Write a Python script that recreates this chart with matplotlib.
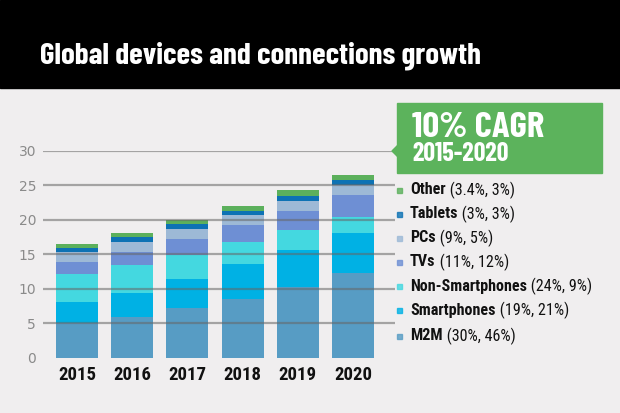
import matplotlib
matplotlib.use('Agg')

import matplotlib.pyplot as plt
from matplotlib.patches import Rectangle, Polygon
import numpy as np

# values (billions of devices)
years = ['2015', '2016', '2017', '2018', '2019', '2020']
m2m = [4.98, 5.85, 7.21, 8.47, 10.20, 12.29]
smartphones = [3.10, 3.54, 4.21, 5.13, 5.38, 5.76]
non_smartphones = [4.11, 4.11, 3.53, 3.19, 2.95, 2.42]
tvs = [1.65, 1.89, 2.27, 2.41, 2.76, 3.09]
pcs = [1.45, 1.45, 1.50, 1.46, 1.45, 1.44]
tablets = [0.58, 0.66, 0.63, 0.68, 0.72, 0.79]
other = [0.58, 0.55, 0.58, 0.66, 0.83, 0.71]

series = [m2m, smartphones, non_smartphones, tvs, pcs, tablets, other]
colors = ['#579cc4', '#00b1e4', '#44d8e0', '#6e8fd4', '#9db9d6', '#0d72b4', '#5cb05c']
names = ['M2M', 'Smartphones', 'Non-Smartphones', 'TVs', 'PCs', 'Tablets', 'Other']
shares = ['(30%, 46%)', '(19%, 21%)', '(24%, 9%)', '(11%, 12%)', '(9%, 5%)', '(3%, 3%)', '(3.4%, 3%)']

W, H = 620, 413
bg = '#f0eeef'
cond = ['Roboto Condensed', 'DejaVu Sans']
tight = ['Barlow Condensed', 'Roboto Condensed', 'DejaVu Sans']

fig = plt.figure(figsize=(6.2, 4.13), dpi=100, facecolor=bg)
renderer = fig.canvas.get_renderer()


def fx(px):
    return px / W


def fy(py):
    return 1 - py / H


def fit_width(texts, target):
    # scale font size so the texts together span target pixels
    w = sum(t.get_window_extent(renderer).width for t in texts)
    for t in texts:
        t.set_fontsize(t.get_fontsize() * target / w)


# black header band
fig.patches.append(Rectangle((0, fy(88)), 1, 88 / H, transform=fig.transFigure,
                             color='black', zorder=0))
title = fig.text(fx(261), fy(63), 'Global devices and connections growth', color='white',
                 fontsize=28, fontweight='bold', family=tight, ha='center', va='baseline')
fit_width([title], 442)

ax = fig.add_axes([fx(43), fy(357.5), fx(352), 206.5 / H])
ax.set_facecolor(bg)
x = np.arange(len(years))
bottom = np.zeros(len(years))
for vals, c in zip(series, colors):
    ax.bar(x, vals, width=0.76, bottom=bottom, color=c, zorder=2)
    bottom += np.array(vals)

for y in range(5, 31, 5):
    ax.axhline(y, color='#666666', alpha=0.55, lw=1.6, zorder=3)

ax.set_xlim(-0.616, 5.76)
ax.set_ylim(0, 30)
ax.set_yticks(range(0, 31, 5))
ax.set_xticks(x)
ax.set_xticklabels(years, fontweight='bold', fontsize=13.5, family=cond)
ax.tick_params(axis='y', length=0, pad=5, labelcolor='#8a8a8a', labelsize=10)
ax.tick_params(axis='x', length=0, pad=6, labelcolor='#111111')
for s in ax.spines.values():
    s.set_visible(False)

# green CAGR box with pointer
green = '#5cb35c'
fig.patches.append(Rectangle((fx(397), fy(173)), fx(205), 70 / H, transform=fig.transFigure,
                             color=green, zorder=1))
fig.patches.append(Polygon([(fx(392), fy(151)), (fx(398), fy(145)), (fx(398), fy(157))],
                           closed=True, transform=fig.transFigure, color=green, zorder=1))
cagr = fig.text(fx(412), fy(137), '10% CAGR', color='white', fontsize=19, fontweight='bold',
                family=tight, va='baseline')
fit_width([cagr], 132)
span = fig.text(fx(412), fy(161), '2015-2020', color='white', fontsize=15, fontweight='bold',
                family=tight, va='baseline')
fit_width([span], 97)

# legend, bottom entry first
rows = [336, 310, 286, 262, 238, 214, 190]
pairs = []
for name, share, c, ry in zip(names, shares, colors, rows):
    fig.patches.append(Rectangle((fx(396.5), fy(ry + 3)), fx(5.5), 5.5 / H,
                                 transform=fig.transFigure, color=c, alpha=0.8))
    t = fig.text(fx(410), fy(ry), name, fontsize=12, fontweight='bold', family=cond,
                 color='#111111', va='center')
    a = fig.add_artist(plt.Annotation(' ' + share, xy=(1, 0.5), xycoords=t, va='center',
                                      fontsize=12, family=cond, color='#111111'))
    pairs.append((t, a))

# size legend so the longest row matches the reference width
w = sum(p.get_window_extent(renderer).width for p in pairs[2])
scale = 183 / w
for t, a in pairs:
    t.set_fontsize(t.get_fontsize() * scale)
    a.set_fontsize(a.get_fontsize() * scale)

fig.savefig('out.png', dpi=100, facecolor=bg)
